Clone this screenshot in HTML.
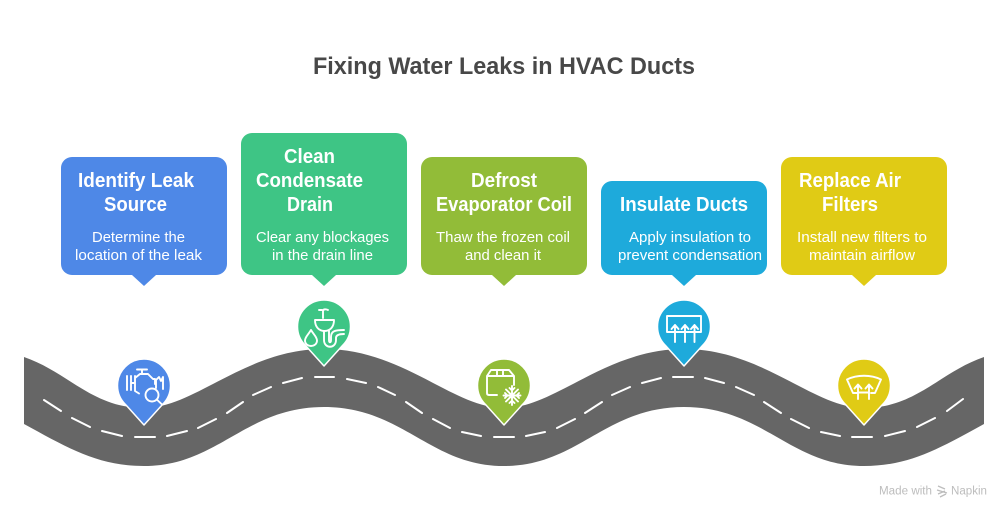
<!DOCTYPE html>
<html><head><meta charset="utf-8"><style>
html,body{margin:0;padding:0;background:#fff;width:1008px;height:516px;overflow:hidden}
svg{display:block}
text{font-family:"Liberation Sans",sans-serif}
.h{font-weight:bold;font-size:20px;fill:#fff}
.s{font-size:14.7px;fill:#fff}
.i{fill:none;stroke:#fff;stroke-width:1.9;stroke-linecap:round;stroke-linejoin:round}
</style></head><body>
<svg width="1008" height="516" viewBox="0 0 1008 516" xmlns="http://www.w3.org/2000/svg">
<rect width="1008" height="516" fill="#fff"/>
<text x="313" y="74" font-size="24" font-weight="bold" fill="#484848" textLength="382" lengthAdjust="spacingAndGlyphs">Fixing Water Leaks in HVAC Ducts</text>

<!-- road -->
<path fill="#666" d="M24 357 C68 372 92 408 144 408 C195 408 245 349 324 349 C403 349 453 408 504 408 C555 408 605 349 684 349 C763 349 813 408 864 408 C916 408 940 372 984 357 L984 424 C940 448 910 466 864 466 C790 466 763 407 684 407 C605 407 578 466 504 466 C430 466 403 407 324 407 C245 407 218 466 144 466 C98 466 68 448 24 424 Z"/>
<g stroke="#fff" stroke-width="2" stroke-linecap="round" fill="none">
<path d="M44 400L61 411M72 418L90 427M102 431L122 436M135 437L155 437M167 436L187 431M198 428L216 419M227 413L243 402M253 395L271 387M283 383L302 378M315 377L334 377M347 379L366 383M378 387L395 395M406 402L422 413M433 419L450 428M462 432L481 436M494 437L514 437M526 436L545 432M557 428L575 419M585 413L602 402M612 395L630 387M642 383L661 378M673 377L693 377M705 378L724 383M736 387L754 395M764 402L781 413M791 419L809 428M821 432L840 436M852 437L872 437M885 436L905 431M917 427L935 418M947 411L963 399"/>
</g>

<!-- boxes -->
<g>
<rect x="61" y="157" width="166" height="118" rx="11" fill="#4E88E7"/><path d="M132 275H156L144 286Z" fill="#4E88E7"/>
<rect x="241" y="133" width="166" height="142" rx="11" fill="#3EC585"/><path d="M312 275H336L324 286Z" fill="#3EC585"/>
<rect x="421" y="157" width="166" height="118" rx="11" fill="#92BC38"/><path d="M492 275H516L504 286Z" fill="#92BC38"/>
<rect x="601" y="181" width="166" height="94" rx="11" fill="#1EAADB"/><path d="M672 275H696L684 286Z" fill="#1EAADB"/>
<rect x="781" y="157" width="166" height="118" rx="11" fill="#E0CB15"/><path d="M852 275H876L864 286Z" fill="#E0CB15"/>
</g>

<!-- box text -->
<text class="h" x="78" y="187" textLength="116" lengthAdjust="spacingAndGlyphs">Identify Leak</text>
<text class="h" x="104" y="211" textLength="63" lengthAdjust="spacingAndGlyphs">Source</text>
<text class="s" x="92" y="242" textLength="93" lengthAdjust="spacingAndGlyphs">Determine the</text>
<text class="s" x="75" y="260" textLength="127" lengthAdjust="spacingAndGlyphs">location of the leak</text>

<text class="h" x="284" y="163" textLength="51" lengthAdjust="spacingAndGlyphs">Clean</text>
<text class="h" x="256" y="187" textLength="107" lengthAdjust="spacingAndGlyphs">Condensate</text>
<text class="h" x="287" y="211" textLength="46" lengthAdjust="spacingAndGlyphs">Drain</text>
<text class="s" x="256" y="242" textLength="133" lengthAdjust="spacingAndGlyphs">Clear any blockages</text>
<text class="s" x="272" y="260" textLength="101" lengthAdjust="spacingAndGlyphs">in the drain line</text>

<text class="h" x="471" y="187" textLength="66" lengthAdjust="spacingAndGlyphs">Defrost</text>
<text class="h" x="436" y="211" textLength="136" lengthAdjust="spacingAndGlyphs">Evaporator Coil</text>
<text class="s" x="436" y="242" textLength="134" lengthAdjust="spacingAndGlyphs">Thaw the frozen coil</text>
<text class="s" x="465" y="260" textLength="76" lengthAdjust="spacingAndGlyphs">and clean it</text>

<text class="h" x="620" y="211" textLength="128" lengthAdjust="spacingAndGlyphs">Insulate Ducts</text>
<text class="s" x="629" y="242" textLength="122" lengthAdjust="spacingAndGlyphs">Apply insulation to</text>
<text class="s" x="618" y="260" textLength="144" lengthAdjust="spacingAndGlyphs">prevent condensation</text>

<text class="h" x="799" y="187" textLength="102" lengthAdjust="spacingAndGlyphs">Replace Air</text>
<text class="h" x="822" y="211" textLength="56" lengthAdjust="spacingAndGlyphs">Filters</text>
<text class="s" x="797" y="242" textLength="130" lengthAdjust="spacingAndGlyphs">Install new filters to</text>
<text class="s" x="809" y="260" textLength="106" lengthAdjust="spacingAndGlyphs">maintain airflow</text>

<!-- pins -->
<g stroke="#fff" stroke-width="1.5" stroke-linejoin="round">
<path fill="#4E88E7" d="M144 425 L125.500 404.500 A26.500 26.500 0 1 1 162.500 404.500 Z"/>
<path fill="#3EC585" d="M324 366 L305.500 345.500 A26.500 26.500 0 1 1 342.500 345.500 Z"/>
<path fill="#92BC38" d="M504 425 L485.500 404.500 A26.500 26.500 0 1 1 522.500 404.500 Z"/>
<path fill="#1EAADB" d="M684 366 L665.500 345.500 A26.500 26.500 0 1 1 702.500 345.500 Z"/>
<path fill="#E0CB15" d="M864 425 L845.500 404.500 A26.500 26.500 0 1 1 882.500 404.500 Z"/>
</g>

<!-- icon 1: engine + magnifier -->
<g class="i">
<path d="M137 369.500H147M142 369.500V374M127 376V390M131 376V390M131 383H135M135 376V391L139 393.500M135 378L140 374H148L153 379H155M155 379V384M156 388V380L159 377L161 381L163 377V389"/>
<circle cx="152" cy="395" r="6.500"/>
<path d="M156.800 399.500L162 404.500"/>
</g>
<!-- icon 2: sink -->
<g class="i">
<path d="M323 318V311C323 309 326 309 328 310M322 310H319M315 320H334M315 320C315 327 319 331 324.500 331C330 331 334 327 334 320M324 331V340C324 349 336 349 336 340V338C336 335 339 334 344 334M329 331V340C329 343 331 343 331 340V337C331 331 335 330 344 330"/>
<path d="M311 330C308 335 305 337 305 340.500C305 344 308 346 311 346C314 346 317 344 317 340.500C317 337 314 335 311 330Z"/>
</g>
<!-- icon 3: box + snow -->
<g class="i">
<path d="M497 395H489C487.500 395 487 394 487 393V376L491 370H509L514 376V385M487 376H514M497 370V376M503 370V376"/>
<path d="M512 386V405M503.500 395.500H520.500M506 389.500L518 401.500M518 389.500L506 401.500M509.500 388L512 390.500L514.500 388M509.500 403L512 400.500L514.500 403M505 393L507.500 395.500L505 398M519 393L516.500 395.500L519 398"/>
</g>
<!-- icon 4: defrost rear -->
<g class="i">
<rect x="667" y="316" width="34" height="16"/>
<path d="M675 325V342M671.500 329L675 325L678.500 329M685 325V342M681.500 329L685 325L688.500 329M694.500 325V342M691 329L694.500 325L698 329"/>
</g>
<!-- icon 5: windshield -->
<g class="i">
<path d="M847 379.500C857 374.500 871 374.500 881 379.500L875 393H871M857 393H853L847 379.500"/>
<path d="M858 385V399M854.500 388.500L858 384.500L861.500 388.500M869 385V399M865.500 388.500L869 384.500L872.500 388.500M858 392.500H869"/>
</g>

<!-- footer -->
<text x="879" y="494.500" font-size="11.500" fill="#bdbdbd" textLength="53" lengthAdjust="spacingAndGlyphs">Made with</text>
<path d="M938 486L945 489M937 490L947 493M938 494L945 491M940 497L946 494" stroke="#bdbdbd" stroke-width="1.300" fill="none"/>
<text x="951" y="494.500" font-size="11.500" fill="#bdbdbd" textLength="36" lengthAdjust="spacingAndGlyphs">Napkin</text>
</svg>
</body></html>
